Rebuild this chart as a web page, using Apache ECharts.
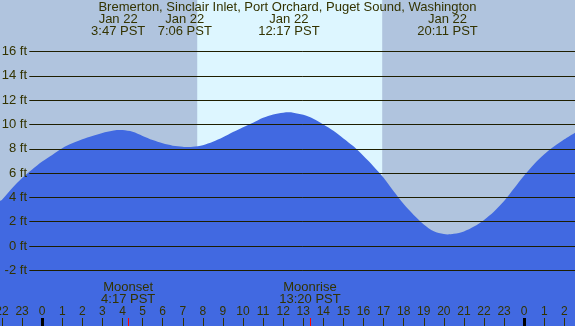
<!DOCTYPE html>
<html>
<head>
<meta charset="utf-8">
<script src="https://cdn.jsdelivr.net/npm/echarts@6/dist/echarts.min.js"></script>
<style>
  html, body { margin: 0; padding: 0; }
  #chart { width: 575px; height: 326px; }
</style>
</head>
<body>
<div id="chart"></div>
<script>
// hours since midnight Jan 22 (negative = Jan 21, >24 = Jan 23)
var hours = [-2.1, -2, -1.5, -1, -0.5, 0, 0.5, 1, 1.5, 2, 2.5, 3, 3.5, 3.783, 4, 4.5, 5, 5.5, 6, 6.5, 7, 7.1, 7.5, 8, 8.5, 9, 9.5, 10, 10.5, 11, 11.5, 12, 12.283, 12.5, 13, 13.5, 14, 14.5, 15, 15.5, 16, 16.5, 17, 17.5, 18, 18.5, 19, 19.5, 20, 20.183, 20.5, 21, 21.5, 22, 22.5, 23, 23.5, 24, 24.5, 25, 25.5, 26, 26.6];
// tide height, ft
var heights = [3.7, 3.8, 4.75, 5.6, 6.3, 6.95, 7.5, 8.05, 8.45, 8.78, 9.05, 9.3, 9.48, 9.55, 9.54, 9.4, 9.06, 8.72, 8.45, 8.26, 8.17, 8.15, 8.17, 8.3, 8.58, 8.95, 9.38, 9.78, 10.15, 10.55, 10.83, 10.97, 11.0, 10.97, 10.8, 10.48, 10.0, 9.48, 8.85, 8.2, 7.4, 6.55, 5.62, 4.5, 3.45, 2.55, 1.78, 1.22, 0.98, 0.95, 1.0, 1.2, 1.6, 2.15, 2.85, 3.7, 4.75, 5.8, 6.75, 7.55, 8.2, 8.78, 9.4];

var yTicks = [-2, 0, 2, 4, 6, 8, 10, 12, 14, 16];
var hourTicks = [-2, -1, 0, 1, 2, 3, 4, 5, 6, 7, 8, 9, 10, 11, 12, 13, 14, 15, 16, 17, 18, 19, 20, 21, 22, 23, 24, 25, 26];
var midnights = [0, 24];

var tideTimes = [3.783, 7.1, 12.283, 20.183];
var tideLabels = ['Jan 22\n3:47 PST', 'Jan 22\n7:06 PST', 'Jan 22\n12:17 PST', 'Jan 22\n20:11 PST'];

var moonTimes = [4.283, 13.333];
var moonLabels = ['Moonset\n4:17 PST', 'Moonrise\n13:20 PST'];

var sunrise = 7.72;
var sunset = 16.93;

var xMin = -2.1, xMax = 26.53;
var yMin = -6.584, yMax = 20.247;
var gridStart = -0.64;

var ink = '#333300';
var font = 'Liberation Sans';

function pick(list, labels, v) {
    var best = 0;
    for (var i = 1; i < list.length; i++) {
        if (Math.abs(list[i] - v) < Math.abs(list[best] - v)) best = i;
    }
    return labels[best];
}

var chart = echarts.init(document.getElementById('chart'));

var baseX = {
    type: 'value', min: xMin, max: xMax, z: 10,
    splitLine: {show: false}, axisLine: {show: false, onZero: false}
};

chart.setOption({
    animation: false,
    backgroundColor: '#b0c4de',
    textStyle: {fontFamily: font, color: ink},
    title: {
        text: 'Bremerton, Sinclair Inlet, Port Orchard, Puget Sound, Washington',
        left: 'center', top: 1, padding: 0,
        textStyle: {fontSize: 13, fontWeight: 'normal', color: ink, fontFamily: font, lineHeight: 13}
    },
    grid: {left: 0, right: 0, top: 0, bottom: 0, containLabel: false, outerBoundsMode: 'none'},
    xAxis: [
        // hour ticks and labels
        Object.assign({}, baseX, {
            position: 'bottom',
            axisTick: {show: true, inside: true, length: 8, customValues: hourTicks, lineStyle: {color: ink, width: 1}},
            axisLabel: {
                show: true, inside: true, margin: 8, fontSize: 12, color: ink, fontFamily: font,
                customValues: hourTicks,
                formatter: function(v) { return String(((Math.round(v) % 24) + 24) % 24); }
            }
        }),
        // midnight markers
        Object.assign({}, baseX, {
            position: 'bottom',
            axisTick: {show: true, inside: true, length: 8, customValues: midnights, lineStyle: {color: '#000', width: 3}},
            axisLabel: {show: false}
        }),
        // moon events
        Object.assign({}, baseX, {
            position: 'bottom',
            axisTick: {show: true, inside: true, length: 8, customValues: moonTimes, lineStyle: {color: '#ff0000', width: 1}},
            axisLabel: {
                show: true, inside: true, margin: 20, fontSize: 13, lineHeight: 12.5, color: ink, fontFamily: font,
                customValues: moonTimes,
                formatter: function(v) { return pick(moonTimes, moonLabels, v); }
            }
        }),
        // tide extremes
        Object.assign({}, baseX, {
            position: 'top',
            axisTick: {show: false},
            axisLabel: {
                show: true, inside: true, margin: 13.5, fontSize: 13, lineHeight: 12, color: ink, fontFamily: font,
                customValues: tideTimes,
                formatter: function(v) { return pick(tideTimes, tideLabels, v); }
            }
        })
    ],
    yAxis: {
        type: 'value', min: yMin, max: yMax, z: 10,
        splitLine: {show: false}, axisLine: {show: false, onZero: false}, axisTick: {show: false},
        axisLabel: {
            show: true, inside: true, align: 'right', margin: 27, fontSize: 13, color: ink, fontFamily: font,
            customValues: yTicks,
            formatter: function(v) { return v + ' ft'; }
        }
    },
    series: [
        {
            name: 'tide',
            type: 'line',
            xAxisIndex: 0,
            smooth: 0.3,
            symbol: 'none',
            data: hours.map(function(h, i) { return [h, heights[i]]; }),
            lineStyle: {width: 0, color: '#4169e1'},
            areaStyle: {color: '#4169e1', opacity: 1, origin: 'start'},
            markArea: {
                silent: true,
                itemStyle: {color: '#ddf6ff'},
                data: [[{xAxis: sunrise}, {xAxis: sunset}]]
            },
            markLine: {
                silent: true, symbol: 'none',
                label: {show: false},
                lineStyle: {color: '#1e1e00', width: 1, type: 'solid'},
                data: yTicks.map(function(v) { return [{coord: [gridStart, v]}, {coord: [xMax, v]}]; })
            }
        }
    ]
});
</script>
</body>
</html>
